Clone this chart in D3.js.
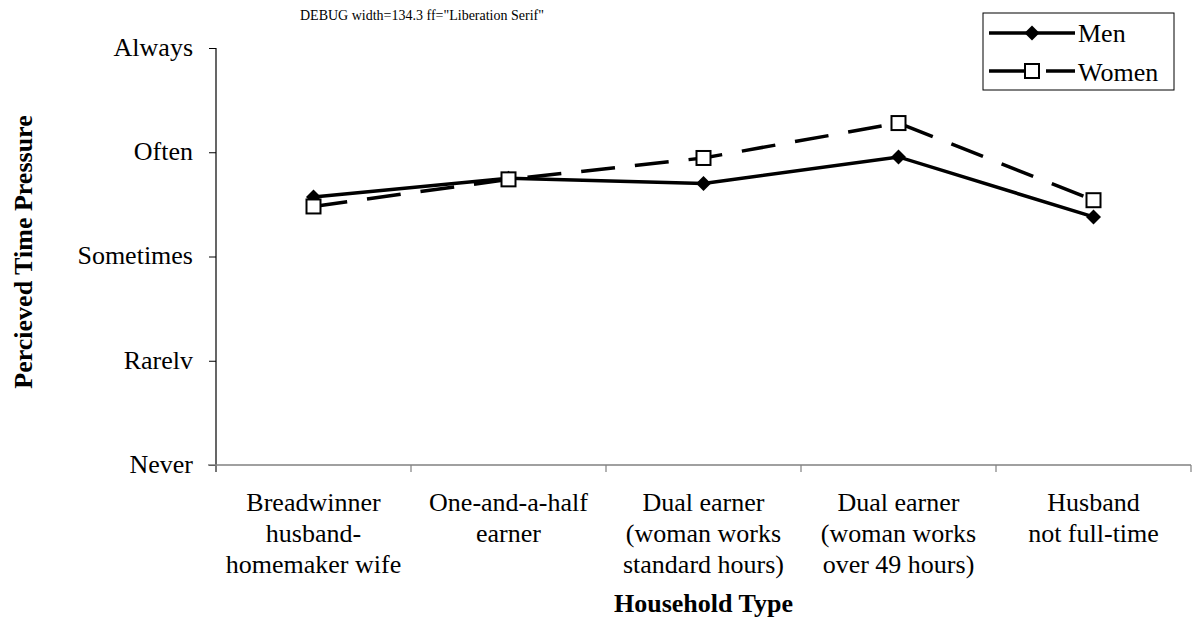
<!DOCTYPE html>
<html><head><meta charset="utf-8">
<script src="https://cdn.jsdelivr.net/npm/d3@7"></script>
<style>body{margin:0;background:#fff}svg{display:block}</style>
</head><body><svg id="c" width="1192" height="623"></svg>
<script>
const categories = [
  ["Breadwinner","husband-","homemaker wife"],
  ["One-and-a-half","earner"],
  ["Dual earner","(woman works","standard hours)"],
  ["Dual earner","(woman works","over 49 hours)"],
  ["Husband","not full-time"]
];
const yTickLabels = ["Never","Rarelv","Sometimes","Often","Always"];
const men = [2.57, 2.75, 2.70, 2.955, 2.38];
const women = [2.48, 2.74, 2.945, 3.28, 2.54];

const FF = "'Liberation Serif'";
const svg = d3.select("#c");
const L = 216, R = 1191, T = 48, B = 465;
const x = d3.scaleBand().domain(d3.range(categories.length)).range([L, R]);
const y = d3.scaleLinear().domain([0, 4]).range([B, T]);
const txt = sel => sel.style("font-family", FF).style("font-size", "26px").attr("fill", "#000");

const gy = svg.append("g").attr("transform", `translate(${L},0)`)
  .call(d3.axisLeft(y).tickValues([0,1,2,3,4]).tickSize(7).tickFormat(""));
gy.attr("font-family", null).attr("font-size", null);
gy.select(".domain").remove();
gy.selectAll(".tick text").remove();
gy.append("line").attr("x1",0).attr("x2",0).attr("y1",T).attr("y2",B+7).attr("stroke","#000").attr("stroke-width",1.2);
gy.selectAll(".tick line").attr("stroke","#000");
gy.selectAll("text.yl").data(yTickLabels).enter().append("text").attr("class","yl")
  .attr("x",-23).attr("y",(d,i)=>y(i)).attr("dy","0.3em").attr("text-anchor","end").call(txt).text(d=>d);

const gx = svg.append("g").attr("transform", `translate(0,${B})`);
gx.append("line").attr("x1",L-8).attr("x2",R).attr("y1",0).attr("y2",0).attr("stroke","#808080").attr("stroke-width",1.5);
const bounds = d3.range(categories.length+1).map(i => i < categories.length ? x(i) : x(i-1)+x.bandwidth());
gx.selectAll("line.t").data(bounds).enter().append("line").attr("class","t")
  .attr("x1",d=>d).attr("x2",d=>d).attr("y1",0).attr("y2",7).attr("stroke","#808080").attr("stroke-width",1.2);
let firstLabel = null;
categories.forEach((lines,i)=>{
  const t = gx.append("text").attr("text-anchor","middle").attr("x", x(i)+x.bandwidth()/2).attr("y", 46).call(txt);
  lines.forEach((s,j)=> t.append("tspan").attr("x", x(i)+x.bandwidth()/2).attr("dy", j===0?0:31).text(s));
  if (i === 0) firstLabel = t;
});

svg.append("text").attr("x", (L+R)/2).attr("y", 612).attr("text-anchor","middle").call(txt).style("font-weight","bold").text("Household Type");
svg.append("text").attr("transform","translate(32,252) rotate(-90)").attr("text-anchor","middle").call(txt).style("font-weight","bold").text("Percieved Time Pressure");

const cx = i => x(i) + x.bandwidth()/2;
const line = d3.line().x((d,i)=>cx(i)).y(d=>y(d));
svg.append("path").datum(women).attr("d", line).attr("fill","none").attr("stroke","#000").attr("stroke-width",3.5).attr("stroke-dasharray","34,20");
svg.append("path").datum(men).attr("d", line).attr("fill","none").attr("stroke","#000").attr("stroke-width",3.5);

const diamond = s => `M0,${-s}L${s},0L0,${s}L${-s},0Z`;
svg.selectAll("path.m").data(men).enter().append("path").attr("class","m")
  .attr("d", diamond(7.5)).attr("transform",(d,i)=>`translate(${cx(i)},${y(d)})`).attr("fill","#000");
svg.selectAll("rect.w").data(women).enter().append("rect").attr("class","w")
  .attr("x",(d,i)=>cx(i)-7).attr("y",d=>y(d)-7).attr("width",14).attr("height",14)
  .attr("fill","#fff").attr("stroke","#000").attr("stroke-width",2);

const lg = svg.append("g");
lg.append("rect").attr("x",983).attr("y",13).attr("width",191).attr("height",77).attr("fill","#fff").attr("stroke","#000").attr("stroke-width",1);
lg.append("line").attr("x1",989).attr("x2",1075).attr("y1",33).attr("y2",33).attr("stroke","#000").attr("stroke-width",3.5);
lg.append("path").attr("d",diamond(7.5)).attr("transform","translate(1032,33)").attr("fill","#000");
lg.append("line").attr("x1",989).attr("x2",1024).attr("y1",71).attr("y2",71).attr("stroke","#000").attr("stroke-width",3.5);
lg.append("line").attr("x1",1046).attr("x2",1075).attr("y1",71).attr("y2",71).attr("stroke","#000").attr("stroke-width",3.5);
lg.append("rect").attr("x",1025).attr("y",64).attr("width",14).attr("height",14).attr("fill","#fff").attr("stroke","#000").attr("stroke-width",2);
lg.append("text").attr("x",1078).attr("y",42).call(txt).text("Men");
lg.append("text").attr("x",1078).attr("y",81).call(txt).text("Women");

// debug
const w = firstLabel.select("tspan").node().getComputedTextLength();
svg.append("text").attr("x",300).attr("y",20).style("font-size","14px").text("DEBUG width=" + w.toFixed(1) + " ff=" + getComputedStyle(firstLabel.node()).fontFamily);
</script></body></html>
